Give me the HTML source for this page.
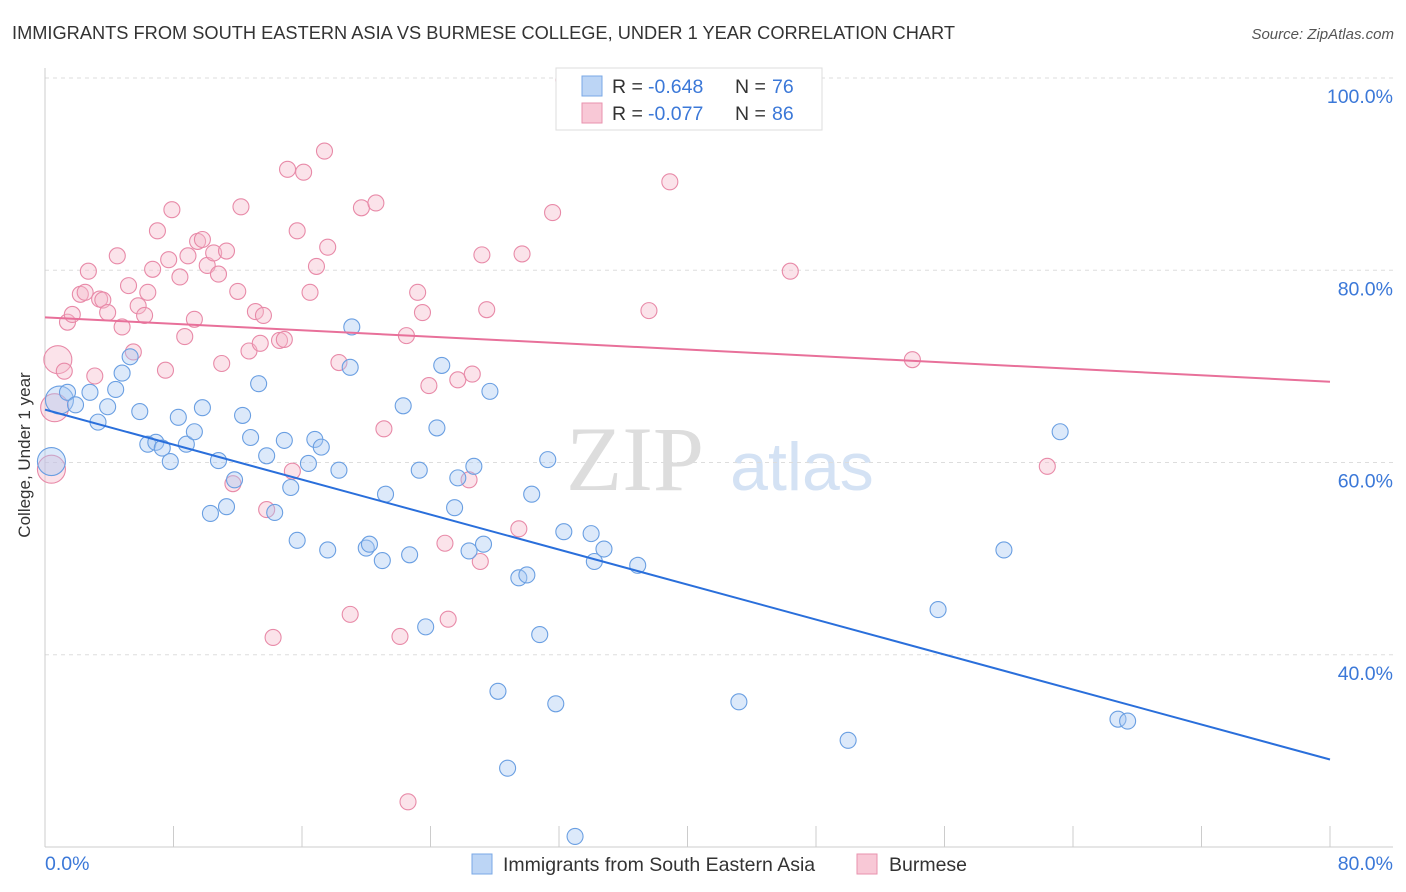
<!DOCTYPE html>
<html><head><meta charset="utf-8"><style>
body{margin:0;background:#fff;font-family:"Liberation Sans",sans-serif;}
svg{display:block}
</style></head><body>
<svg id="chart" width="1406" height="892">
<text x="12" y="39" font-size="18" fill="#333" textLength="943" lengthAdjust="spacingAndGlyphs">IMMIGRANTS FROM SOUTH EASTERN ASIA VS BURMESE COLLEGE, UNDER 1 YEAR CORRELATION CHART</text>
<text x="1394" y="39" font-size="15" fill="#555" text-anchor="end" font-style="italic">Source: ZipAtlas.com</text>
<text x="30" y="455" font-size="17" fill="#333" text-anchor="middle" transform="rotate(-90 30 455)">College, Under 1 year</text>
<g><text x="635" y="490" font-size="92" fill="#ddd" font-family="Liberation Serif" text-anchor="middle">ZIP</text><text x="802" y="490" font-size="68" fill="#d4e2f4" text-anchor="middle">atlas</text></g>
<g id="grid"></g><g id="axes"></g><g id="lines"></g><g id="pts"></g>
<g>
<rect x="556" y="68" width="266" height="62" fill="#fff" stroke="#ddd"/>
<rect x="582" y="76" width="20" height="20" fill="#bcd5f5" stroke="#7aa8e6"/>
<text y="93" font-size="19.5" fill="#333"><tspan x="612">R =</tspan><tspan x="648" fill="#3b78d8">-0.648</tspan><tspan x="735">N =</tspan><tspan x="772" fill="#3b78d8">76</tspan></text>
<rect x="582" y="103" width="20" height="20" fill="#f8c8d6" stroke="#e892ae"/>
<text y="120" font-size="19.5" fill="#333"><tspan x="612">R =</tspan><tspan x="648" fill="#3b78d8">-0.077</tspan><tspan x="735">N =</tspan><tspan x="772" fill="#3b78d8">86</tspan></text>
</g>
<g>
<rect x="472" y="854" width="20" height="20" fill="#bcd5f5" stroke="#7aa8e6"/>
<text x="503" y="871" font-size="19.5" fill="#333">Immigrants from South Eastern Asia</text>
<rect x="857" y="854" width="20" height="20" fill="#f8c8d6" stroke="#e892ae"/>
<text x="889" y="871" font-size="19.5" fill="#333">Burmese</text>
</g>
</svg>
<script>
const yTicks=[40,60,80,100];
const yTickLabels=["40.0%","60.0%","80.0%","100.0%"];
const xTickCount=10;
const blueX=[0.4,0.9,1.4,1.9,2.8,3.3,3.9,4.4,4.8,5.3,5.9,6.4,6.9,7.3,7.8,8.3,8.8,9.3,9.8,10.3,10.8,11.3,11.8,12.3,12.8,13.3,13.8,14.3,14.9,15.3,15.7,16.4,16.8,17.2,17.6,18.3,19.1,19.0,20.0,20.2,21.0,21.2,22.3,22.7,23.3,23.7,24.4,24.7,25.5,25.7,26.4,26.7,27.3,27.7,28.2,28.8,29.5,30.0,30.3,30.8,31.3,31.8,32.3,33.0,34.0,34.2,34.8,36.9,43.2,50.0,55.6,59.7,63.2,66.8,67.4];
const blueY=[60.1,66.5,67.3,66.0,67.3,64.2,65.8,67.6,69.3,71.0,65.3,61.9,62.1,61.5,60.1,64.7,61.9,63.2,65.7,54.7,60.2,55.4,58.2,64.9,62.6,68.2,60.7,54.8,62.3,57.4,51.9,59.9,62.4,61.6,50.9,59.2,74.1,69.9,51.1,51.5,49.8,56.7,65.9,50.4,59.2,42.9,63.6,70.1,55.3,58.4,50.8,59.6,51.5,67.4,36.2,28.2,48.0,48.3,56.7,42.1,60.3,34.9,52.8,21.1,52.6,49.7,51.0,49.3,35.1,31.1,44.7,50.9,63.2,33.3,33.1];
const pinkX=[0.4,0.8,0.6,1.2,1.4,1.7,2.2,2.5,2.7,3.1,3.4,3.6,3.9,4.5,4.8,5.2,5.5,5.8,6.2,6.4,6.7,7.0,7.5,7.7,7.9,8.4,8.7,8.9,9.3,9.5,9.8,10.1,10.5,10.8,11.0,11.3,11.7,12.0,12.2,12.7,13.1,13.4,13.6,13.8,14.2,14.6,14.9,15.1,15.4,15.7,16.1,16.5,16.9,17.4,17.6,18.3,19.0,19.7,20.6,21.1,22.1,22.5,22.6,23.2,23.5,23.9,24.9,25.1,25.7,26.4,26.6,27.1,27.2,27.5,29.5,29.7,31.6,32.3,37.6,38.9,40.1,46.4,54.0,62.4];
const pinkY=[59.3,70.7,65.7,69.5,74.6,75.4,77.5,77.7,79.9,69.0,77.0,76.9,75.6,81.5,74.1,78.4,71.5,76.3,75.3,77.7,80.1,84.1,69.6,81.1,86.3,79.3,73.1,81.5,74.9,83.0,83.2,80.5,81.8,79.6,70.3,82.0,57.8,77.8,86.6,71.6,75.7,72.4,75.3,55.1,41.8,72.7,72.8,90.5,59.1,84.1,90.2,77.7,80.4,92.4,82.4,70.4,44.2,86.5,87.0,63.5,41.9,73.2,24.7,77.7,75.6,68.0,51.6,43.7,68.6,58.2,69.2,49.7,81.6,75.9,53.1,81.7,86.0,99.8,75.8,89.2,99.6,79.9,70.7,59.6];
const bigBlue=[0,1];
const bigPink=[0,1,2];
const blueTrend=[65.5,29.1];
const pinkTrend=[75.1,68.4];
const NS="http://www.w3.org/2000/svg";
const X0=45,X1=1330,YB=847,YT=78;
const sx=v=>X0+(v/80)*(X1-X0);
const sy=v=>YB-(v-20)/80*(YB-YT);
function mk(t,a,p){const e=document.createElementNS(NS,t);for(const k in a)e.setAttribute(k,a[k]);p.appendChild(e);return e;}
const grid=document.getElementById('grid'),axes=document.getElementById('axes');
yTicks.forEach((t,i)=>{
 const l=mk('line',{x1:X0,x2:1393,y1:sy(t),y2:sy(t),stroke:'#ddd','stroke-dasharray':'4,4'},grid);
 
 
 const tx=mk('text',{x:1393,y:sy(t)+25,'font-size':19.5,fill:'#3b78d8','text-anchor':'end'},axes);
 tx.textContent=yTickLabels[i];
 
 
});
const ax=mk('line',{x1:X0,x2:X0,y1:68,y2:YB,stroke:'#ccc'},axes);


const bx=mk('line',{x1:X0,x2:1393,y1:YB,y2:YB,stroke:'#ccc'},axes);


for(let i=0;i<=xTickCount;i++){
 const v=80*i/xTickCount;
 const t=mk('line',{x1:sx(v),x2:sx(v),y1:826,y2:YB,stroke:'#ccc'},axes);
 
 
}
const xl=mk('text',{x:45,y:870,'font-size':19.5,fill:'#3b78d8'},axes);xl.textContent='0.0%';


const xr=mk('text',{x:1393,y:870,'font-size':19.5,fill:'#3b78d8','text-anchor':'end'},axes);xr.textContent='80.0%';


const pts=document.getElementById('pts');
function series(xs,ys,big,fill,stroke,name){
 xs.forEach((x,i)=>{
  const c=mk('circle',{cx:sx(x),cy:sy(ys[i]),r:big.includes(i)?14:8,fill:fill,'fill-opacity':0.4,stroke:stroke,'stroke-width':1.1},pts);
  
  
 });
}
series(pinkX,pinkY,bigPink,'#f6b8cb','#e88aa8','burmese-point');
series(blueX,blueY,bigBlue,'#a8c8f2','#6a9fe2','immigrants-point');
const bl=mk('line',{x1:sx(0),y1:sy(blueTrend[0]),x2:sx(80),y2:sy(blueTrend[1]),stroke:'#2a6fdb','stroke-width':2},pts);


const pl=mk('line',{x1:sx(0),y1:sy(pinkTrend[0]),x2:sx(80),y2:sy(pinkTrend[1]),stroke:'#e8709a','stroke-width':2},pts);


</script>
</body></html>
